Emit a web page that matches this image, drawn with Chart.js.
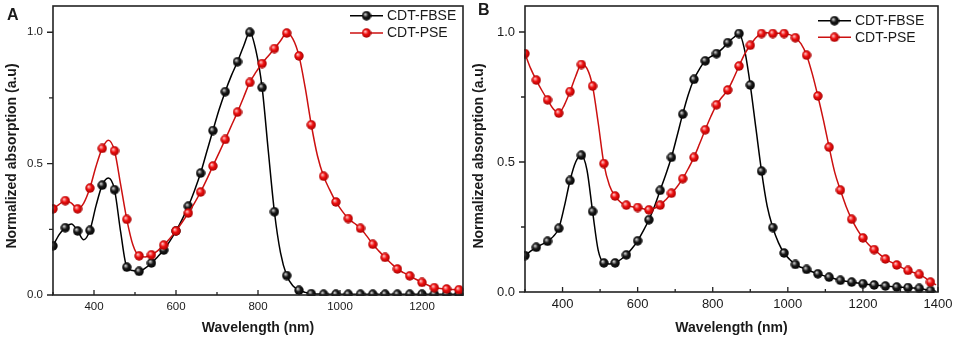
<!DOCTYPE html>
<html lang="en">
<head>
<meta charset="UTF-8">
<title>Normalized absorption spectra</title>
<script src="https://cdn.jsdelivr.net/npm/chart.js"></script>
<style>
  body { margin: 0; background: #fff; }
  canvas { position: absolute; top: 0; }
  #chartA { left: 0; }
  #chartB { left: 466px; }
</style>
</head>
<body>
<canvas id="chartA" width="470" height="338"></canvas>
<canvas id="chartB" width="491" height="338"></canvas>
<script>
// wavelength grid (nm), every 15 nm; a marker sits on every second point
const waveA = [300,315,330,345,360,375,390,405,420,435,450,465,480,495,510,525,540,555,570,585,
  600,615,630,645,660,675,690,705,720,735,750,765,780,795,810,825,840,855,870,885,
  900,915,930,945,960,975,990,1005,1020,1035,1050,1065,1080,1095,1110,1125,1140,1155,1170,1185,
  1200,1215,1230,1245,1260,1275,1290];
const waveB = [300,315,330,345,360,375,390,405,420,435,450,465,480,495,510,525,540,555,570,585,
  600,615,630,645,660,675,690,705,720,735,750,765,780,795,810,825,840,855,870,885,
  900,915,930,945,960,975,990,1005,1020,1035,1050,1065,1080,1095,1110,1125,1140,1155,1170,1185,
  1200,1215,1230,1245,1260,1275,1290,1305,1320,1335,1350,1365,1380,1395];

// panel A
const fbseA = [0.187,0.23,0.256,0.27,0.244,0.21,0.246,0.34,0.418,0.445,0.401,0.24,0.106,0.093,0.090,0.102,0.122,0.145,0.171,0.205,
  0.244,0.288,0.338,0.397,0.464,0.545,0.626,0.705,0.774,0.835,0.888,0.948,1.0,0.93,0.790,0.55,0.317,0.16,0.074,0.035,
  0.018,0.010,0.005,0.004,0.003,0.003,0.003,0.003,0.003,0.003,0.003,0.003,0.003,0.003,0.003,0.003,0.003,0.003,0.003,0.003,
  0.003,0.003,0.003,0.003,0.003,0.003,0.003];
const pseA = [0.328,0.345,0.359,0.35,0.328,0.35,0.407,0.49,0.558,0.589,0.549,0.42,0.288,0.19,0.149,0.145,0.153,0.168,0.190,0.215,
  0.244,0.277,0.312,0.35,0.392,0.44,0.491,0.541,0.592,0.644,0.696,0.753,0.809,0.848,0.881,0.91,0.938,0.968,0.997,0.975,
  0.910,0.79,0.648,0.53,0.452,0.40,0.354,0.32,0.291,0.273,0.254,0.225,0.193,0.167,0.143,0.12,0.099,0.085,0.073,0.06,
  0.048,0.037,0.028,0.025,0.023,0.021,0.020];

// panel B
const fbseB = [0.140,0.157,0.172,0.183,0.195,0.213,0.245,0.33,0.429,0.50,0.526,0.47,0.310,0.16,0.112,0.108,0.112,0.125,0.143,0.167,
  0.197,0.235,0.278,0.33,0.391,0.452,0.518,0.60,0.684,0.76,0.818,0.858,0.889,0.905,0.917,0.935,0.959,0.978,0.994,0.93,
  0.796,0.63,0.465,0.33,0.248,0.19,0.150,0.125,0.106,0.095,0.087,0.078,0.070,0.063,0.057,0.051,0.045,0.041,0.038,0.035,
  0.032,0.029,0.027,0.025,0.023,0.021,0.019,0.018,0.017,0.015,0.014,0.010,0.006,0.003];
const pseB = [0.917,0.86,0.815,0.775,0.739,0.705,0.688,0.72,0.771,0.83,0.875,0.86,0.792,0.65,0.494,0.41,0.369,0.345,0.334,0.328,
  0.325,0.32,0.316,0.322,0.334,0.355,0.380,0.405,0.436,0.475,0.518,0.57,0.624,0.675,0.720,0.75,0.777,0.82,0.869,0.915,
  0.949,0.978,0.994,0.997,0.994,0.995,0.994,0.99,0.978,0.955,0.911,0.84,0.754,0.66,0.557,0.46,0.392,0.33,0.280,0.24,
  0.208,0.183,0.163,0.145,0.127,0.115,0.104,0.093,0.083,0.075,0.068,0.055,0.038,0.028];

const tickLabelsA = [400, 600, 800, 1000, 1200];
const tickLabelsB = [400, 600, 800, 1000, 1200, 1400];
const yTickLabels = [0, 0.5, 1.0];
const seriesNames = ['CDT-FBSE', 'CDT-PSE'];

const FONT = '"Liberation Sans", Arial, sans-serif';
const TXT = '#1a1a1a';

// shaded ball used as the marker
function sphere(base, hi, dark) {
  const c = document.createElement('canvas');
  c.width = c.height = 10;
  const g = c.getContext('2d');
  const grad = g.createRadialGradient(3.6, 3.4, 0.3, 5, 5, 5);
  grad.addColorStop(0, hi);
  grad.addColorStop(0.45, base);
  grad.addColorStop(1, dark);
  g.fillStyle = grad;
  g.beginPath();
  g.arc(5, 5, 4.7, 0, Math.PI * 2);
  g.fill();
  return c;
}
const ballBlack = sphere('#1a1a1a', '#d8d8d8', '#000');
const ballRed = sphere('#f01010', '#ffc8c8', '#a00000');

// frame, inward x ticks, outward y ticks, y title, panel letter, legend
const panelDecor = {
  id: 'panelDecor',
  afterDraw(chart, args, o) {
    const { ctx, chartArea: a, scales: { x, y } } = chart;
    ctx.save();
    ctx.strokeStyle = '#222';
    ctx.lineWidth = 1.6;
    ctx.strokeRect(a.left, a.top, a.right - a.left, a.bottom - a.top);
    ctx.lineWidth = 1.3;
    ctx.beginPath();
    o.xTicks.forEach(v => {
      let px = x.getPixelForValue(v);
      ctx.moveTo(px, a.bottom); ctx.lineTo(px, a.bottom - 5);
      px = x.getPixelForValue(v - 100);
      ctx.moveTo(px, a.bottom); ctx.lineTo(px, a.bottom - 3);
    });
    yTickLabels.forEach(v => {
      let py = y.getPixelForValue(v);
      ctx.moveTo(a.left, py); ctx.lineTo(a.left - 6, py);
      if (v < 1) {
        py = y.getPixelForValue(v + 0.25);
        ctx.moveTo(a.left, py); ctx.lineTo(a.left - 4, py);
      }
    });
    ctx.stroke();

    ctx.fillStyle = TXT;
    ctx.font = 'bold 14px ' + FONT;
    ctx.textAlign = 'center';
    ctx.textBaseline = 'middle';
    ctx.save();
    ctx.translate(o.yTitleX, 156);
    ctx.rotate(-Math.PI / 2);
    ctx.fillText('Normalized absorption (a.u)', 0, 0);
    ctx.restore();

    ctx.font = 'bold 16px ' + FONT;
    ctx.textAlign = 'left';
    ctx.textBaseline = 'alphabetic';
    ctx.fillText(o.letter, o.letterX, o.letterY);

    ctx.font = '14px ' + FONT;
    ctx.textBaseline = 'middle';
    chart.data.datasets.forEach((ds, i) => {
      const ly = o.legendY[i];
      ctx.strokeStyle = ds.borderColor;
      ctx.lineWidth = 1.5;
      ctx.beginPath();
      ctx.moveTo(o.legendX, ly); ctx.lineTo(o.legendX + 33, ly);
      ctx.stroke();
      ctx.drawImage(ds.pointStyle, o.legendX + 16.5 - 5, ly - 5);
      ctx.fillStyle = TXT;
      ctx.fillText(ds.label, o.legendX + 37, ly + 0.5);
    });
    ctx.restore();
  }
};

function makePanel(p) {
  const markerRadius = c => (c.dataIndex % 2 === 0 ? 4.5 : 0);
  const points = vals => p.wave.map((w, i) => ({ x: w, y: vals[i] }));
  return new Chart(document.getElementById(p.canvas), {
    type: 'line',
    data: {
      datasets: [
        { label: seriesNames[0], data: points(p.fbse), borderColor: '#000', borderWidth: 1.5,
          pointStyle: ballBlack, pointRadius: markerRadius, cubicInterpolationMode: 'monotone', clip: 1, order: 1 },
        { label: seriesNames[1], data: points(p.pse), borderColor: '#cc1010', borderWidth: 1.5,
          pointStyle: ballRed, pointRadius: markerRadius, cubicInterpolationMode: 'monotone', clip: 1, order: 0 }
      ]
    },
    options: {
      responsive: false,
      animation: false,
      events: [],
      layout: { padding: { left: 0, top: 4, right: p.padR, bottom: 0 } },
      plugins: {
        legend: { display: false },
        tooltip: { enabled: false },
        panelDecor: p.decor
      },
      scales: {
        x: {
          type: 'linear', min: 300, max: p.xMax,
          grid: { display: false, drawTicks: false },
          border: { display: false },
          afterBuildTicks: s => { s.ticks = p.ticks.map(v => ({ value: v })); },
          afterFit: s => { s.height = p.xH; s.paddingLeft = 0; s.paddingRight = 0; },
          ticks: { color: TXT, padding: 5, maxRotation: 0, autoSkip: false,
                   font: { family: FONT, size: p.tickFont }, callback: v => String(v) },
          title: { display: true, text: 'Wavelength (nm)', color: TXT, padding: { top: 0, bottom: 1.5 },
                   font: { family: FONT, size: 14, weight: 'bold' } }
        },
        y: {
          min: 0, max: 1.1,
          grid: { display: false, drawTicks: false },
          border: { display: false },
          afterBuildTicks: s => { s.ticks = yTickLabels.map(v => ({ value: v })); },
          afterFit: s => { s.width = p.yW; s.paddingTop = 0; s.paddingBottom = 0; },
          ticks: { color: TXT, padding: 10, font: { family: FONT, size: p.tickFont },
                   callback: v => v.toFixed(1) }
        }
      }
    },
    plugins: [panelDecor]
  });
}

makePanel({ canvas: 'chartA', wave: waveA, fbse: fbseA, pse: pseA, xMax: 1300, ticks: tickLabelsA,
  yW: 53, xH: 43, padR: 7, tickFont: 11.5,
  decor: { xTicks: tickLabelsA, letter: 'A', letterX: 7, letterY: 20, yTitleX: 12, legendX: 350, legendY: [15.7, 33] } });
makePanel({ canvas: 'chartB', wave: waveB, fbse: fbseB, pse: pseB, xMax: 1400, ticks: tickLabelsB,
  yW: 59, xH: 46, padR: 19, tickFont: 13,
  decor: { xTicks: tickLabelsB, letter: 'B', letterX: 12, letterY: 15, yTitleX: 13, legendX: 352, legendY: [20.7, 37.3] } });
</script>
</body>
</html>
